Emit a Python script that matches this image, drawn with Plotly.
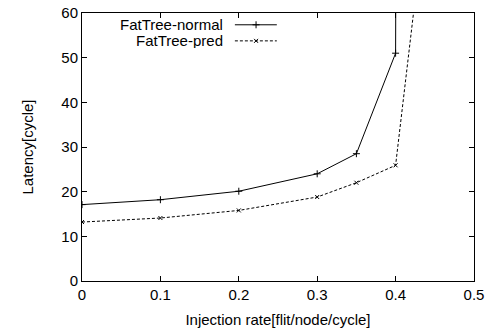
import plotly.graph_objects as go

rates = [0, 0.1, 0.2, 0.3, 0.35, 0.4, 0.45]
normal = [17.1, 18.2, 20.1, 24.0, 28.5, 51.0, 3000]
pred = [13.2, 14.1, 15.8, 18.8, 22.0, 25.9, 100.5]
names = ["FatTree-normal", "FatTree-pred"]
x_ticks = [0, 0.1, 0.2, 0.3, 0.4, 0.5]
x_labels = ["0", "0.1", "0.2", "0.3", "0.4", "0.5"]
y_ticks = [0, 10, 20, 30, 40, 50, 60]

FONT = "Liberation Sans, Arial, Helvetica, sans-serif"
FS = 15

mk_normal = dict(symbol="cross-thin", size=5, line=dict(color="black", width=1))
mk_pred = dict(symbol="x-thin", size=4, line=dict(color="black", width=1))
ln_normal = dict(color="black", width=1)
ln_pred = dict(color="black", width=1, dash="3px,2px")

fig = go.Figure()
fig.add_trace(go.Scatter(x=rates, y=normal, mode="lines+markers", name=names[0],
                         line=ln_normal, marker=mk_normal, showlegend=False))
fig.add_trace(go.Scatter(x=rates, y=pred, mode="lines+markers", name=names[1],
                         line=ln_pred, marker=mk_pred, showlegend=False))

# gnuplot-style key: text on the left, sample on the right
key_y = [0.956, 0.896]
key_line = [0.39, 0.497]
key_mark = 0.444
styles = [(ln_normal, mk_normal), (ln_pred, mk_pred)]
for i, nm in enumerate(names):
    ln, mk = styles[i]
    fig.add_trace(go.Scatter(x=key_line, y=[key_y[i]] * 2, mode="lines", line=ln,
                             xaxis="x2", yaxis="y2", showlegend=False, hoverinfo="skip"))
    fig.add_trace(go.Scatter(x=[key_mark], y=[key_y[i]], mode="markers", marker=mk,
                             xaxis="x2", yaxis="y2", showlegend=False, hoverinfo="skip"))
    fig.add_annotation(x=0.365, y=key_y[i], xref="paper", yref="paper", text=nm,
                       showarrow=False, xanchor="right", yanchor="middle",
                       font=dict(family=FONT, size=FS, color="black"),
                       height=15, valign="middle")

axis_common = dict(showline=True, linecolor="black", linewidth=1, mirror="allticks",
                   ticks="inside", ticklen=5, tickcolor="black", tickwidth=1,
                   showgrid=False, zeroline=False, automargin=False,
                   tickfont=dict(family=FONT, size=FS, color="black"))

fig.update_layout(
    width=486, height=333,
    margin=dict(l=82, r=12, t=13, b=52),
    paper_bgcolor="white", plot_bgcolor="white",
    font=dict(family=FONT, size=FS, color="black"),
    xaxis=dict(range=[0, 0.5], tickvals=x_ticks, ticktext=x_labels,
               title=dict(text="Injection rate[flit/node/cycle]", standoff=12,
                          font=dict(family=FONT, size=FS)), **axis_common),
    yaxis=dict(range=[0, 60], tickvals=y_ticks,
               title=dict(text="Latency[cycle]", standoff=24,
                          font=dict(family=FONT, size=FS)), **axis_common),
    xaxis2=dict(range=[0, 1], overlaying="x", visible=False, fixedrange=True),
    yaxis2=dict(range=[0, 1], overlaying="y", visible=False, fixedrange=True),
)

fig.write_html("out.html")
